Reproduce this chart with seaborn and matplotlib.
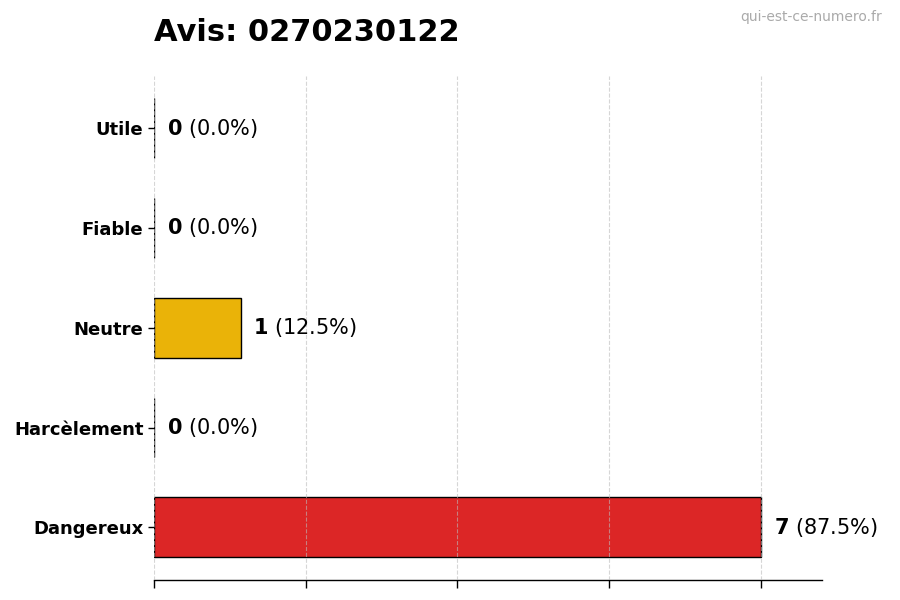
import matplotlib
matplotlib.use("Agg")
import matplotlib.pyplot as plt
import seaborn as sns
import pandas as pd

sns.set_theme(style="white")
plt.rcParams['font.family'] = ['DejaVu Sans']
plt.rcParams['mathtext.fontset'] = 'dejavusans'
plt.rcParams['text.color'] = 'black'
plt.rcParams['ytick.color'] = 'black'
plt.rcParams['xtick.color'] = 'black'

categories = ["Utile", "Fiable", "Neutre", "Harcèlement", "Dangereux"]
counts = [0, 0, 1, 0, 7]
colors = ["#16a34a", "#2563eb", "#eab308", "#f97316", "#dc2626"]
title = "Avis: 0270230122"
watermark = "qui-est-ce-numero.fr"

df = pd.DataFrame({"categorie": categories, "avis": counts})
total = sum(counts)

fig = plt.figure(figsize=(9, 6), dpi=100)
ax = fig.add_axes([0.171, 0.033, 0.742, 0.84])

sns.barplot(data=df, x="avis", y="categorie", hue="categorie", order=categories,
            palette=dict(zip(categories, colors)), orient="h", width=0.6,
            saturation=1, edgecolor="black", linewidth=1, legend=False, ax=ax)

xmax = max(counts) * 1.1
ax.set_xlim(0, xmax)
ax.set_ylim(len(categories) - 0.47, -0.52)
ax.set_xticks([max(counts) * i / 4 for i in range(5)])
ax.set_xticklabels([])
ax.tick_params(axis="x", length=6, width=1, color="black", bottom=True)
ax.tick_params(axis="y", length=4, width=1, color="black", left=True)
ax.set_xlabel("")
ax.set_ylabel("")
for lbl in ax.get_yticklabels():
    lbl.set_fontweight("bold")
    lbl.set_fontsize(13)
    lbl.set_color("black")

ax.set_axisbelow(False)
ax.grid(axis="x", linestyle="--", color="#bbbbbb", alpha=0.6, linewidth=0.8)
ax.grid(axis="y", visible=False)

for side in ["top", "right", "left"]:
    ax.spines[side].set_visible(False)
ax.spines["bottom"].set_color("black")
ax.spines["bottom"].set_linewidth(1)

for i, v in enumerate(counts):
    pct = v / total * 100 if total else 0
    ax.text(v + xmax * 0.019, i, r"$\mathbf{%d}$ (%.1f%%)" % (v, pct),
            va="center", ha="left", fontsize=15, color="black")

ax.set_title(title, loc="left", fontsize=22, fontweight="bold", color="black", pad=25)
fig.text(0.98, 0.972, watermark, ha="right", va="center", fontsize=10, color="#aaaaaa")

fig.savefig("out.png", dpi=100)
